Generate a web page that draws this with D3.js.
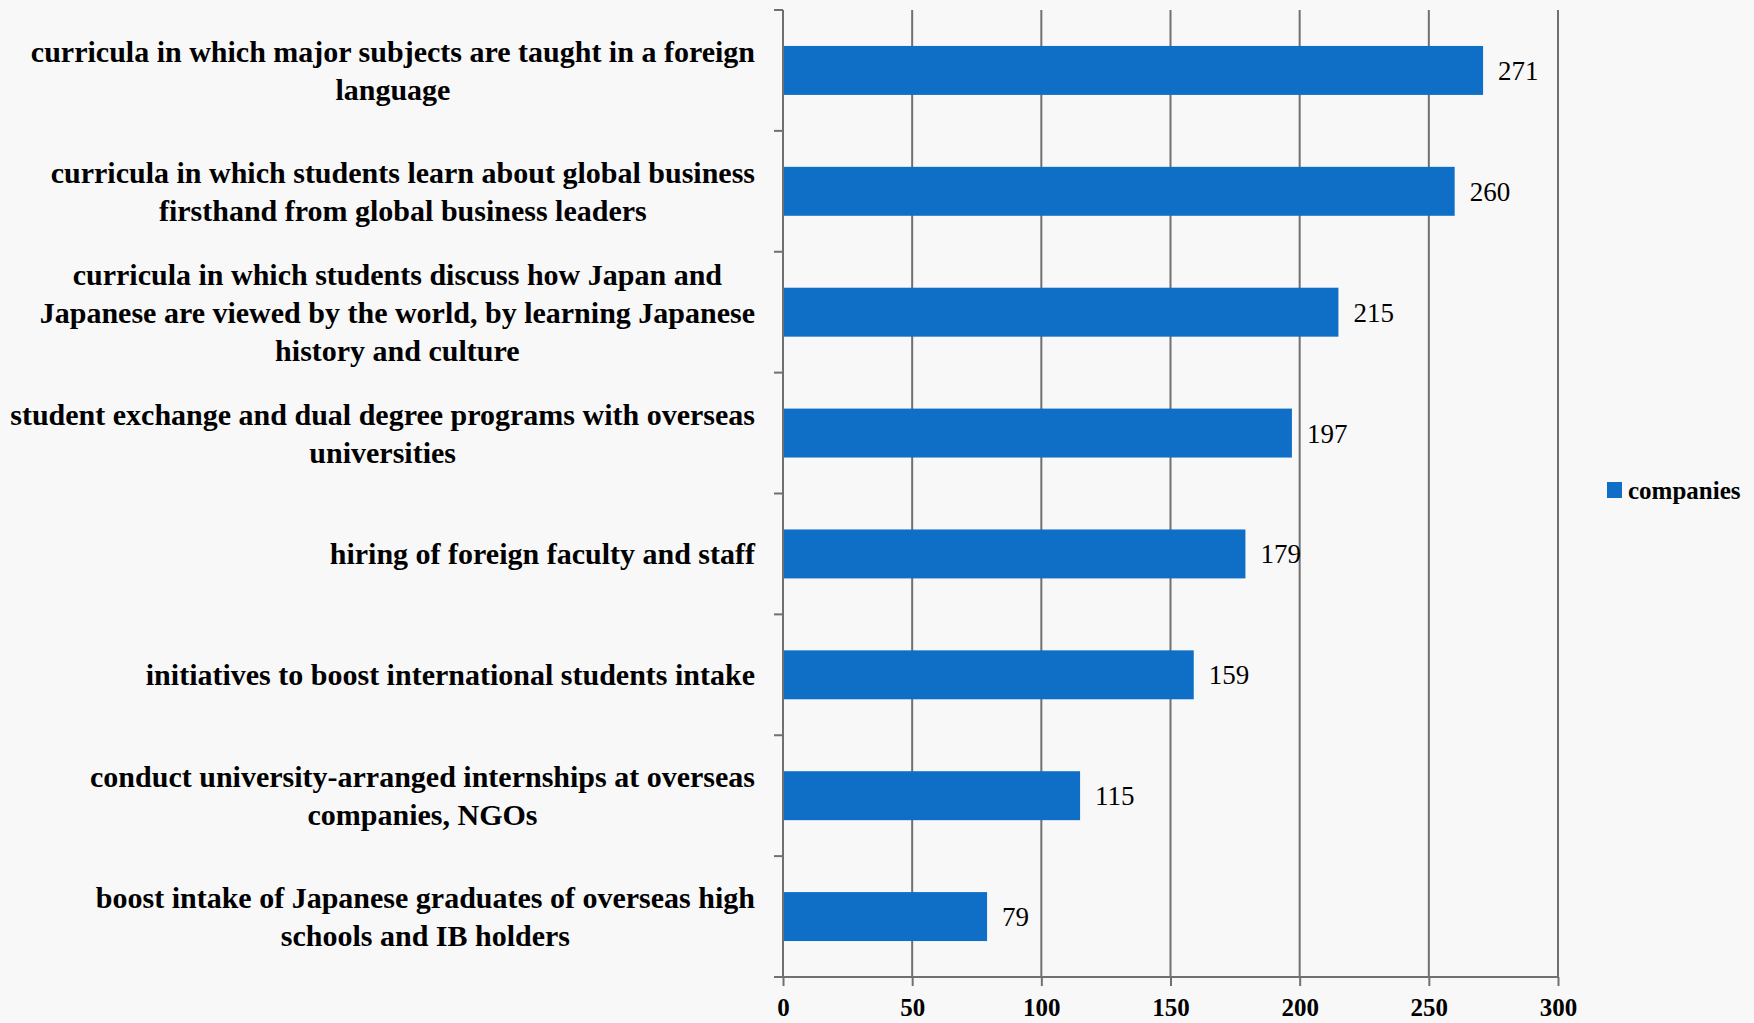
<!DOCTYPE html>
<html>
<head>
<meta charset="utf-8">
<script src="https://cdn.jsdelivr.net/npm/d3@7"></script>
<style>
  html, body { margin: 0; padding: 0; background: #f8f8f8; }
  svg { display: block; }
</style>
</head>
<body>
<svg id="chart" width="1754" height="1023"></svg>
<script>
// ---- data ----
const categories = [
  "curricula in which major subjects are taught in a foreign language",
  "curricula in which students learn about global business firsthand from global business leaders",
  "curricula in which students discuss how Japan and Japanese are viewed by the world, by learning Japanese history and culture",
  "student exchange and dual degree programs with overseas universities",
  "hiring of foreign faculty and staff",
  "initiatives to boost international students intake",
  "conduct university-arranged internships at overseas companies, NGOs",
  "boost intake of Japanese graduates of overseas high schools and IB holders"
];
const labelLines = [
  ["curricula in which major subjects are taught in a  foreign", "language"],
  ["curricula in which students learn about global business", "firsthand from global business leaders"],
  ["curricula in which students discuss how Japan and", "Japanese are viewed by the world, by learning Japanese", "history and culture"],
  ["student exchange and dual degree programs with overseas", "universities"],
  ["hiring of foreign faculty and staff"],
  ["initiatives to boost international students intake"],
  ["conduct university-arranged internships at overseas", "companies, NGOs"],
  ["boost intake of Japanese graduates of overseas high", "schools and IB holders"]
];
const companies = [271, 260, 215, 197, 179, 159, 115, 79];
const xTicks = [0, 50, 100, 150, 200, 250, 300];
const seriesName = "companies";

// ---- layout ----
const svg = d3.select("#chart");
const pLeft = 783, pRight = 1558, pTop = 10, pBottom = 977;
const barColor = "#0F6FC6";
const gridColor = "#707070";
const serif = "'Liberation Serif', 'Times New Roman', serif";

svg.append("rect").attr("width", 1754).attr("height", 1023).attr("fill", "#f8f8f8");

const x = d3.scaleLinear().domain([0, 300]).range([pLeft, pRight]);
const y = d3.scaleBand().domain(categories).range([pTop, pBottom])
  .paddingInner(0.595).paddingOuter(0.2975);
const yStep = d3.scaleBand().domain(categories).range([pTop, pBottom]);

// vertical gridlines
svg.append("g").selectAll("line").data(xTicks.filter(d => d > 0)).join("line")
  .attr("x1", d => x(d)).attr("x2", d => x(d))
  .attr("y1", pTop).attr("y2", pBottom)
  .attr("stroke", gridColor).attr("stroke-width", 2);

// bars
svg.append("g").selectAll("rect").data(companies).join("rect")
  .attr("x", x(0))
  .attr("y", (d, i) => y(categories[i]))
  .attr("width", d => x(d) - x(0))
  .attr("height", y.bandwidth())
  .attr("fill", barColor);

// value labels
svg.append("g").selectAll("text").data(companies).join("text")
  .attr("x", d => x(d) + 15)
  .attr("y", (d, i) => y(categories[i]) + y.bandwidth() / 2)
  .attr("dy", "0.35em")
  .attr("font-family", serif).attr("font-size", 27)
  .attr("fill", "#000")
  .text(d => d);

// x axis
const xAxis = d3.axisBottom(x).tickValues(xTicks).tickSize(9).tickPadding(12).tickSizeOuter(0);
const gx = svg.append("g").attr("transform", `translate(0,${pBottom})`).call(xAxis);
gx.select(".domain").remove();
gx.append("line").attr("x1", pLeft - 9).attr("x2", pRight + 1).attr("y1", 0).attr("y2", 0)
  .attr("stroke", gridColor).attr("stroke-width", 2);
gx.selectAll(".tick line").attr("stroke", gridColor).attr("stroke-width", 2);
gx.selectAll(".tick text")
  .attr("font-family", serif).attr("font-size", 25).attr("font-weight", "bold")
  .attr("fill", "#000");

// y axis line and category ticks
svg.append("line").attr("x1", pLeft).attr("x2", pLeft).attr("y1", pTop).attr("y2", pBottom)
  .attr("stroke", gridColor).attr("stroke-width", 2);
const boundaries = categories.map(c => yStep(c));
svg.append("g").selectAll("line").data(boundaries).join("line")
  .attr("x1", pLeft - 9).attr("x2", pLeft)
  .attr("y1", d => d).attr("y2", d => d)
  .attr("stroke", gridColor).attr("stroke-width", 2);

// category labels: block right-aligned at 755, lines centered within block
const lineH = 38;
const labelRight = 755;
const lg = svg.append("g");
labelLines.forEach((lines, i) => {
  const cy = yStep(categories[i]) + yStep.bandwidth() / 2;
  const g = lg.append("g");
  const texts = lines.map((ln, j) => g.append("text")
    .attr("y", cy + (j - (lines.length - 1) / 2) * lineH)
    .attr("dy", "0.35em")
    .attr("text-anchor", "middle")
    .attr("font-family", serif).attr("font-size", 30).attr("font-weight", "bold")
    .attr("fill", "#000")
    .text(ln));
  const maxW = d3.max(texts, t => t.node().getComputedTextLength());
  texts.forEach(t => t.attr("x", labelRight - maxW / 2));
});

// legend
const leg = svg.append("g").attr("transform", "translate(1607,482)");
leg.append("rect").attr("width", 15).attr("height", 16).attr("fill", barColor);
leg.append("text").attr("x", 21).attr("y", 8).attr("dy", "0.35em")
  .attr("font-family", serif).attr("font-size", 25).attr("font-weight", "bold")
  .attr("fill", "#000").text(seriesName);
</script>
</body>
</html>
